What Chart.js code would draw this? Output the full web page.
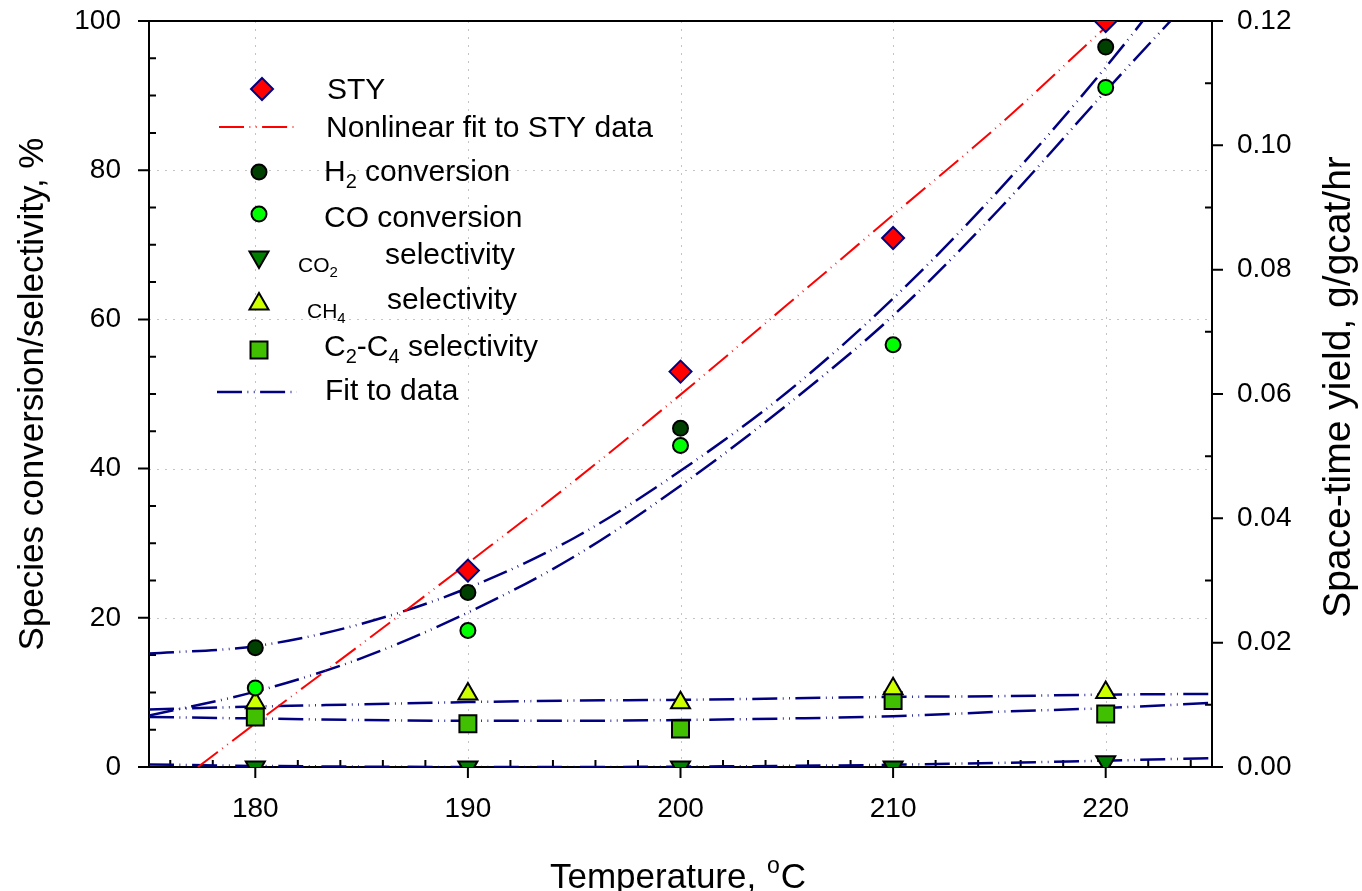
<!DOCTYPE html>
<html>
<head>
<meta charset="utf-8">
<script src="https://cdn.jsdelivr.net/npm/chart.js@4.4.1/dist/chart.umd.min.js"></script>
<style>
  html, body { margin: 0; padding: 0; background: #fff; }
  #wrap { width: 1362px; height: 891px; }
</style>
</head>
<body>
<div id="wrap"><canvas id="chart" width="1362" height="891"></canvas></div>
<script>
const temps = [180, 190, 200, 210, 220];
const h2Conversion = [16.0, 23.4, 45.4, null, 96.5];
const coConversion = [10.6, 18.3, 43.1, 56.6, 91.1];
const co2Selectivity = [0, 0, 0, 0, 0.7];
const ch4Selectivity = [8.6, 9.8, 8.6, 10.5, 10.0];
const c2c4Selectivity = [6.7, 5.8, 5.1, 8.9, 7.1];

const styTemps = [190, 200, 210, 220];
const styValues = [0.0316, 0.0636, 0.0851, 0.1200];

// ---- fitted curves ----
const fitTemps = [175, 180, 185, 190, 195, 200, 205, 210, 215, 220, 225];
const h2Fit = [15.2, 16.2, 19.2, 24.0, 30.7, 39.7, 50.2, 62.8, 77.4, 93.8, 112.0];
const coFit = [6.9, 10.1, 14.6, 20.7, 28.2, 37.7, 48.5, 60.5, 74.8, 90.6, 106.0];
const ch4Fit = [7.7, 8.1, 8.4, 8.7, 8.9, 9.0, 9.2, 9.4, 9.5, 9.7, 9.8];
const c2c4Fit = [6.7, 6.5, 6.3, 6.2, 6.2, 6.3, 6.5, 6.8, 7.4, 7.9, 8.6];
const co2Fit = [0.35, 0.15, 0.05, 0, 0, 0.05, 0.15, 0.3, 0.55, 0.85, 1.2];

const styFitTemps = [177.3, 180, 185, 190, 195, 200, 205, 210, 215, 220, 225];
const styFit = [0, 0.0070, 0.0198, 0.0328, 0.0460, 0.0599, 0.0743, 0.0888, 0.1033, 0.1190, 0.1344];

// ---- axis ticks ----
const xTicks = [180, 190, 200, 210, 220];
const xMinorStep = 2;
const leftTicks = [0, 20, 40, 60, 80, 100];
const leftMinorStep = 5;
const rightTicks = [0, 0.02, 0.04, 0.06, 0.08, 0.10, 0.12];
const rightMinorStep = 0.01;

const FONT = '"Liberation Sans", Arial, sans-serif';
const NAVY = '#000080';
const DASH = [25, 5.5, 0.8, 5.5, 0.8, 5.5];

function pts(xs, ys) {
    return xs.map((x, i) => ({ x: x, y: ys[i] })).filter(p => p.y !== null);
}

function markerSet(label, ys, style, fill, radius, rotation) {
    return {
        label: label,
        data: pts(temps, ys),
        yAxisID: 'y',
        showLine: false,
        pointStyle: style,
        pointRotation: rotation || 0,
        pointRadius: radius,
        pointBackgroundColor: fill,
        pointBorderColor: '#000000',
        pointBorderWidth: 2,
        order: 0
    };
}

function fitSet(label, xs, ys, color, axis, width) {
    return {
        label: label,
        data: pts(xs, ys),
        yAxisID: axis,
        showLine: true,
        borderColor: color,
        borderWidth: width,
        borderDash: DASH,
        pointRadius: 0,
        cubicInterpolationMode: 'monotone',
        order: 1
    };
}

// draw one marker the same way Chart.js does
function drawMarker(ctx, style, x, y, r, fill, stroke, bw, rot) {
    ctx.save();
    ctx.beginPath();
    if (style === 'circle') {
        ctx.arc(x, y, r, 0, Math.PI * 2);
    } else if (style === 'rectRot') {
        ctx.moveTo(x, y - r); ctx.lineTo(x + r, y); ctx.lineTo(x, y + r); ctx.lineTo(x - r, y);
    } else if (style === 'rect') {
        const s = r * Math.SQRT1_2;
        ctx.rect(x - s, y - s, 2 * s, 2 * s);
    } else if (style === 'triangle') {
        let a = (rot || 0) * Math.PI / 180;
        ctx.moveTo(x + Math.sin(a) * r, y - Math.cos(a) * r);
        a += 2 * Math.PI / 3;
        ctx.lineTo(x + Math.sin(a) * r, y - Math.cos(a) * r);
        a += 2 * Math.PI / 3;
        ctx.lineTo(x + Math.sin(a) * r, y - Math.cos(a) * r);
    }
    ctx.closePath();
    ctx.fillStyle = fill;
    ctx.fill();
    ctx.lineWidth = bw;
    ctx.strokeStyle = stroke;
    ctx.stroke();
    ctx.restore();
}

// text with subscripts: parts = [[text, isSub], ...]
function drawRich(ctx, parts, x, baseline, size, subSize, subDrop) {
    let cx = x;
    parts.forEach(p => {
        ctx.font = (p[1] ? subSize : size) + 'px ' + FONT;
        ctx.fillText(p[0], cx, baseline + (p[1] ? subDrop : 0));
        cx += ctx.measureText(p[0]).width;
    });
}

// frame, grid and ticks (drawn under the data)
const framePlugin = {
    id: 'frame',
    beforeDatasetsDraw(chart) {
        const ctx = chart.ctx;
        const a = chart.chartArea;
        const xs = chart.scales.x, yl = chart.scales.y, yr = chart.scales.y2;
        ctx.save();
        // dotted grid
        ctx.strokeStyle = '#c4c4c4';
        ctx.lineWidth = 1;
        ctx.setLineDash([2, 6]);
        xTicks.forEach(v => {
            const px = Math.round(xs.getPixelForValue(v)) + 0.5;
            ctx.beginPath(); ctx.moveTo(px, a.top); ctx.lineTo(px, a.bottom); ctx.stroke();
        });
        leftTicks.slice(1, -1).forEach(v => {
            const py = Math.round(yl.getPixelForValue(v)) + 0.5;
            ctx.beginPath(); ctx.moveTo(a.left, py); ctx.lineTo(a.right, py); ctx.stroke();
        });
        ctx.setLineDash([]);
        // frame
        ctx.strokeStyle = '#000';
        ctx.lineWidth = 2;
        ctx.strokeRect(a.left, a.top, a.right - a.left, a.bottom - a.top);
        // ticks
        ctx.beginPath();
        xTicks.forEach(v => {
            const px = xs.getPixelForValue(v);
            ctx.moveTo(px, a.bottom); ctx.lineTo(px, a.bottom + 11);
        });
        for (let v = xs.min + 1; v < xs.max; v += xMinorStep) {
            if (xTicks.includes(v)) continue;
            const px = xs.getPixelForValue(v);
            ctx.moveTo(px, a.bottom); ctx.lineTo(px, a.bottom - 7);
        }
        leftTicks.forEach(v => {
            const py = yl.getPixelForValue(v);
            ctx.moveTo(a.left, py); ctx.lineTo(a.left - 11, py);
        });
        for (let v = leftMinorStep; v < yl.max; v += leftMinorStep) {
            if (leftTicks.includes(v)) continue;
            const py = yl.getPixelForValue(v);
            ctx.moveTo(a.left, py); ctx.lineTo(a.left + 7, py);
        }
        rightTicks.forEach(v => {
            const py = yr.getPixelForValue(v);
            ctx.moveTo(a.right, py); ctx.lineTo(a.right + 11, py);
        });
        for (let k = 1; k * rightMinorStep < yr.max; k += 2) {
            const py = yr.getPixelForValue(k * rightMinorStep);
            ctx.moveTo(a.right, py); ctx.lineTo(a.right - 7, py);
        }
        ctx.stroke();
        ctx.restore();
    },
    afterDraw(chart) {
        const ctx = chart.ctx;
        ctx.save();
        ctx.fillStyle = '#000';
        ctx.textBaseline = 'alphabetic';
        ctx.textAlign = 'left';

        // axis titles
        ctx.font = '35px ' + FONT;
        const t1 = 'Temperature, ';
        const w1 = ctx.measureText(t1).width;
        ctx.fillText(t1, 550, 888);
        ctx.font = '23px ' + FONT;
        const wo = ctx.measureText('o').width;
        ctx.fillText('o', 550 + w1 + 1, 873);
        ctx.font = '35px ' + FONT;
        ctx.fillText('C', 550 + w1 + wo + 2, 888);

        ctx.textAlign = 'center';
        ctx.textBaseline = 'middle';
        ctx.save();
        ctx.translate(33, 394);
        ctx.rotate(-Math.PI / 2);
        ctx.fillText('Species conversion/selectivity, %', 0, 0);
        ctx.restore();
        ctx.font = '39px ' + FONT;
        ctx.save();
        ctx.translate(1339, 387);
        ctx.rotate(-Math.PI / 2);
        ctx.fillText('Space-time yield, g/gcat/hr', 0, 0);
        ctx.restore();

        // legend
        ctx.textAlign = 'left';
        ctx.textBaseline = 'alphabetic';
        drawMarker(ctx, 'rectRot', 262, 89, 11, '#ff0000', NAVY, 2);
        ctx.strokeStyle = '#ff0000';
        ctx.lineWidth = 2;
        ctx.setLineDash(DASH);
        ctx.beginPath(); ctx.moveTo(219, 127); ctx.lineTo(298, 127); ctx.stroke();
        ctx.strokeStyle = NAVY;
        ctx.lineWidth = 2.5;
        ctx.beginPath(); ctx.moveTo(217, 392); ctx.lineTo(297, 392); ctx.stroke();
        ctx.setLineDash([]);
        drawMarker(ctx, 'circle', 259, 172, 7.5, '#004000', '#000', 2);
        drawMarker(ctx, 'circle', 259, 214, 7.5, '#00ff00', '#000', 2);
        drawMarker(ctx, 'triangle', 259, 257, 11, '#008000', '#000', 2, 180);
        drawMarker(ctx, 'triangle', 259, 304, 11, '#ccff00', '#000', 2, 0);
        drawMarker(ctx, 'rect', 259, 350, 12, '#40c000', '#000', 2);

        ctx.fillStyle = '#000';
        drawRich(ctx, [['STY', false]], 327, 99, 30, 20, 0);
        drawRich(ctx, [['Nonlinear fit to STY data', false]], 326, 137, 30, 20, 0);
        drawRich(ctx, [['H', false], ['2', true], [' conversion', false]], 324, 181, 30, 20, 7);
        drawRich(ctx, [['CO conversion', false]], 324, 227, 30, 20, 0);
        drawRich(ctx, [['CO', false], ['2', true]], 298, 272, 21, 15, 5);
        drawRich(ctx, [['selectivity', false]], 385, 264, 30, 20, 0);
        drawRich(ctx, [['CH', false], ['4', true]], 307, 318, 21, 15, 5);
        drawRich(ctx, [['selectivity', false]], 387, 309, 30, 20, 0);
        drawRich(ctx, [['C', false], ['2', true], ['-C', false], ['4', true], [' selectivity', false]], 324, 356, 30, 20, 7);
        drawRich(ctx, [['Fit to data', false]], 325, 400, 30, 20, 0);
        ctx.restore();
    }
};

const datasets = [
    {
        label: 'STY',
        data: pts(styTemps, styValues),
        yAxisID: 'y2',
        showLine: false,
        pointStyle: 'rectRot',
        pointRadius: 11,
        pointBackgroundColor: '#ff0000',
        pointBorderColor: NAVY,
        pointBorderWidth: 2,
        order: 0
    },
    markerSet('H2 conversion', h2Conversion, 'circle', '#004000', 7.5),
    markerSet('CO conversion', coConversion, 'circle', '#00ff00', 7.5),
    markerSet('CO2 selectivity', co2Selectivity, 'triangle', '#008000', 11, 180),
    markerSet('CH4 selectivity', ch4Selectivity, 'triangle', '#ccff00', 11),
    markerSet('C2-C4 selectivity', c2c4Selectivity, 'rect', '#40c000', 12),
    fitSet('Nonlinear fit to STY data', styFitTemps, styFit, '#ff0000', 'y2', 2),
    fitSet('H2 fit', fitTemps, h2Fit, NAVY, 'y', 2.5),
    fitSet('CO fit', fitTemps, coFit, NAVY, 'y', 2.5),
    fitSet('CH4 fit', fitTemps, ch4Fit, NAVY, 'y', 2.5),
    fitSet('C2-C4 fit', fitTemps, c2c4Fit, NAVY, 'y', 2.5),
    fitSet('CO2 fit', fitTemps, co2Fit, NAVY, 'y', 2.5)
];

function noPad(s) {
    s.paddingTop = 0; s.paddingBottom = 0; s.paddingLeft = 0; s.paddingRight = 0;
}

new Chart(document.getElementById('chart'), {
    type: 'scatter',
    data: { datasets: datasets },
    options: {
        responsive: false,
        animation: false,
        layout: { padding: { top: 21, left: 0, right: 0, bottom: 0 } },
        plugins: {
            legend: { display: false },
            tooltip: { enabled: false }
        },
        scales: {
            x: {
                type: 'linear',
                position: 'bottom',
                min: 175,
                max: 225,
                afterBuildTicks: s => { s.ticks = xTicks.map(v => ({ value: v })); },
                afterFit: s => { s.height = 124; noPad(s); },
                grid: { display: false },
                border: { display: false },
                ticks: { color: '#000', padding: 17, font: { family: FONT, size: 28 } }
            },
            y: {
                type: 'linear',
                position: 'left',
                min: 0,
                max: 100,
                afterBuildTicks: s => { s.ticks = leftTicks.map(v => ({ value: v })); },
                afterFit: s => { s.width = 149; noPad(s); },
                grid: { display: false },
                border: { display: false },
                ticks: { color: '#000', padding: 20, font: { family: FONT, size: 28 } }
            },
            y2: {
                type: 'linear',
                position: 'right',
                min: 0,
                max: 0.12,
                afterBuildTicks: s => { s.ticks = rightTicks.map(v => ({ value: v })); },
                afterFit: s => { s.width = 150; noPad(s); },
                grid: { display: false },
                border: { display: false },
                ticks: {
                    color: '#000',
                    padding: 17,
                    font: { family: FONT, size: 28 },
                    callback: v => v.toFixed(2)
                }
            }
        }
    },
    plugins: [framePlugin]
});
</script>
</body>
</html>
